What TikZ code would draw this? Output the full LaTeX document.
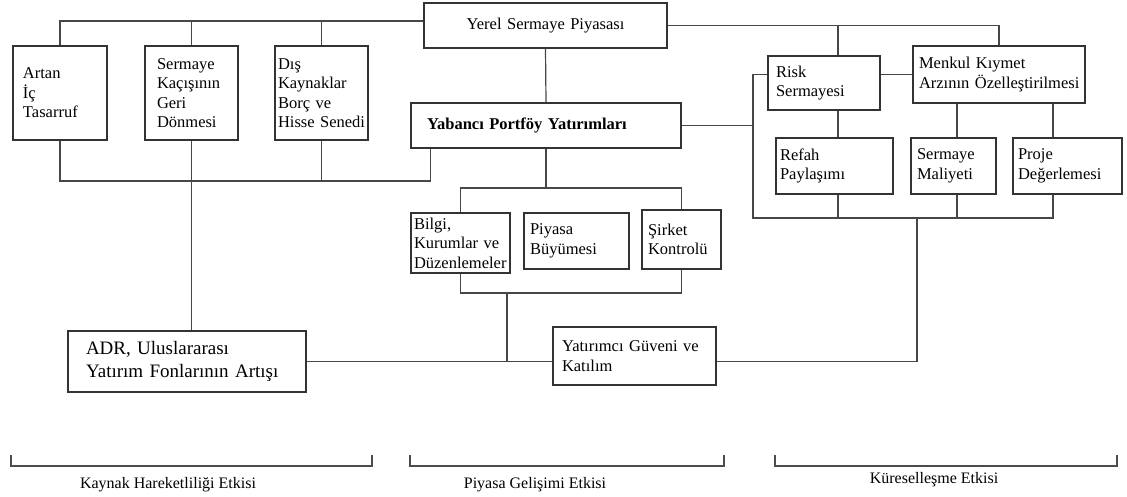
\documentclass[tikz,border=0pt]{standalone}
\usepackage{fontspec}
\setmainfont{Liberation Serif}
\usepackage{tikz}
\usetikzlibrary{positioning}
\newcommand{\metin}{\fontsize{16.5}{19.5}\selectfont}
\newcommand{\buyukmetin}{\fontsize{19}{23}\selectfont}
\tikzset{
  kutu/.style={draw=black!80, line width=1.3pt, inner xsep=0pt, inner ysep=1pt,
    align=left, font=\metin, execute at begin node={\hyphenpenalty=10000\relax}},
  hat/.style={draw=black!72, line width=1.2pt},
  parantez/.style={draw=black!70, line width=1.1pt},
  etiket/.style={font=\fontsize{16}{19}\selectfont, inner sep=0pt},
}

\begin{document}
\begin{tikzpicture}[x=1pt, y=-1pt]
  \useasboundingbox (0,0) rectangle (1127,497);

  % Local capital market on top
  \node[kutu, align=center, minimum width=243, minimum height=45, text width=230]
    (yerel) at (545.5,25.5) {Yerel Sermaye Piyasası};

  % Resource mobility boxes
  \node[kutu, minimum width=94, minimum height=94, text width=74]
    (artan) at (60,93) {Artan\\İç\\Tasarruf};
  \node[kutu, minimum width=93, minimum height=94, text width=69]
    (kacis) at (191.5,93) {Sermaye\\Kaçışının\\Geri\\Dönmesi};
  \node[kutu, minimum width=93, minimum height=94, text width=87]
    (dis) at (321.5,93) {Dış\\Kaynaklar\\Borç~ve\\Hisse~Senedi};
  \node[kutu, font=\buyukmetin, minimum width=238, minimum height=61, text width=202]
    (adr) at (187,361.5) {ADR, Uluslararası\\Yatırım~Fonlarının~Artışı};

  % Foreign portfolio and market development
  \node[kutu, font=\metin\bfseries, minimum width=270, minimum height=45, text width=238]
    (yabanci) at (546,125.5) {Yabancı Portföy Yatırımları};
  \node[kutu, minimum width=99, minimum height=60, text width=93]
    (bilgi) at (460.5,243) {Bilgi,\\Kurumlar~ve\\Düzenlemeler};
  \node[kutu, minimum width=105, minimum height=56, text width=93]
    (piyasa) at (576.5,241) {Piyasa\\Büyümesi};
  \node[kutu, minimum width=79, minimum height=59, text width=67]
    (sirket) at (681.5,239.5) {Şirket\\Kontrolü};
  \node[kutu, minimum width=163, minimum height=58, text width=145]
    (yatirimci) at (634.5,356) {Yatırımcı~Güveni~ve\\Katılım};

  % Globalisation boxes
  \node[kutu, minimum width=112, minimum height=54, text width=96]
    (risk) at (824,83) {Risk\\Sermayesi};
  \node[kutu, minimum width=172, minimum height=57, text width=160]
    (menkul) at (999,74.5) {Menkul~Kıymet\\Arzının~Özelleştirilmesi};
  \node[kutu, minimum width=117, minimum height=56, text width=109]
    (refah) at (834.5,166) {Refah\\Paylaşımı};
  \node[kutu, minimum width=85, minimum height=56, text width=73]
    (maliyet) at (953.5,166) {Sermaye\\Maliyeti};
  \node[kutu, minimum width=109, minimum height=56, text width=99]
    (proje) at (1067.5,166) {Proje\\Değerlemesi};

  % Bus lines
  \coordinate (yerelsol) at ([yshift=4.5pt]yerel.west);
  \coordinate (solalt) at (0,181);
  \coordinate (ortaust) at (0,188);
  \coordinate (ortaalt) at (507,293);
  \coordinate (sagalt) at (753,218);
  \coordinate (sagdus) at (917,218);

  % Left side
  \draw[hat] (artan.north) |- (yerelsol);
  \draw[hat] (kacis.north) -- (kacis.north |- yerelsol);
  \draw[hat] (dis.north) -- (dis.north |- yerelsol);
  \draw[hat] (artan.south) -- (artan.south |- solalt) -| ([xshift=20pt]yabanci.south west);
  \draw[hat] (dis.south) -- (dis.south |- solalt);
  \draw[hat] (kacis.south) -- (kacis.south |- adr.north);

  % Middle
  \draw[hat] (yerel.south) -- (yabanci.north);
  \draw[hat] (yabanci.south) -- (yabanci.south |- ortaust);
  \draw[hat] (bilgi.north) |- (sirket.north |- ortaust) -- (sirket.north);
  \draw[hat] (bilgi.south) |- (sirket.south |- ortaalt) -- (sirket.south);
  \draw[hat] (ortaalt) -- (ortaalt |- adr.east);
  \draw[hat] (adr.east) -- (adr.east -| yatirimci.west);

  % Right side
  \draw[hat] (yerel.east) -| (menkul.north);
  \draw[hat] ([xshift=3.5pt]refah.north |- yerel.east) -- ([xshift=3.5pt]refah.north |- risk.north);
  \draw[hat] (risk.east |- menkul.west) -- (menkul.west);
  \draw[hat] ([xshift=3.5pt]refah.north |- risk.south) -- ([xshift=3.5pt]refah.north);
  \draw[hat] ([xshift=3.5pt]maliyet.north |- menkul.south) -- ([xshift=3.5pt]maliyet.north);
  \draw[hat] ([xshift=-14.5pt]proje.north |- menkul.south) -- ([xshift=-14.5pt]proje.north);
  \draw[hat] (yabanci.east) -- (yabanci.east -| sagalt);
  \draw[hat] (risk.west |- menkul.west) -| (sagalt) -| ([xshift=-14.5pt]proje.south);
  \draw[hat] ([xshift=3.5pt]refah.south) -- ([xshift=3.5pt]refah.south |- sagalt);
  \draw[hat] ([xshift=3.5pt]maliyet.south) -- ([xshift=3.5pt]maliyet.south |- sagalt);
  \draw[hat] (adr.east -| yatirimci.east) -| (sagdus);

  % Effect brackets
  \draw[parantez] (11,455) |- (372,466) -- (372,455);
  \draw[parantez] (410,455) |- (724,466) -- (724,455);
  \draw[parantez] (775,455) |- (1117,466) -- (1117,455);
  \node[etiket] (kaynak) at (168,485) {Kaynak Hareketliliği Etkisi};
  \node[etiket] (gelisim) at (535,485) {Piyasa Gelişimi Etkisi};
  \node[etiket] (kuresel) at (934,480) {Küreselleşme Etkisi};
\end{tikzpicture}
\end{document}
